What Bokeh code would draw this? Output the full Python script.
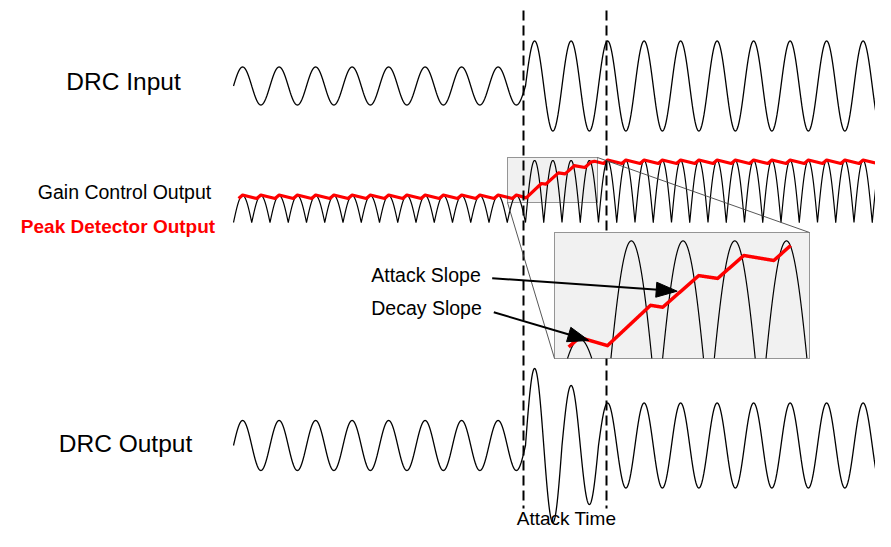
import numpy as np
from bokeh.plotting import figure
from bokeh.models import Range1d
from bokeh.core.properties import value
from bokeh.embed import file_html
from bokeh.resources import INLINE

# ---------------- data (diagram values, page-pixel units) ----------------
PERIOD = 36.5              # one signal cycle
X_START = 233.0            # where every trace begins
X_END = 895.0
PRE_HALF_CYCLES = 16       # half cycles before the level step

IN_CENTER = 85.5
IN_AMPS = [19.0, 45.0]                 # before / after the step
RECT_BASE = 222.0
RECT_AMPS = [27.0, 62.0]               # rectified (gain control) levels
OUT_CENTER = 445.0
OUT_AMP_BEFORE = 25.0
OUT_ATTACK_AMPS = [77.0, 77.0, 60.0, 59.0]   # half cycles during attack time
OUT_AMP_AFTER = 42.5

PEAK_SMALL = [194.5, 198.0]            # peak detector top / low, before step
PEAK_BIG = [159.5, 163.0]              # after step
ATTACK_X = [525.7, 540.9, 545.2, 557.9, 564.6, 573.8, 584.4, 590.4, 594.0, 603.1]
ATTACK_Y = [197.4, 183.0, 183.7, 172.4, 173.4, 165.2, 167.0, 161.6, 160.8, 163.0]

MARKER_X = [523.0, 606.0]              # attack time boundaries
MARKER_Y = [10.0, 508.0]

ZOOM_SRC = [507.0, 157.0, 597.0, 202.0]   # x0, y0, x1, y1
ZOOM_DST = [554.0, 232.0, 809.0, 358.0]
INSET_RED_SPAN = [512.0, 590.4]

ARROW_FROM_X = [491.7, 493.3]
ARROW_FROM_Y = [277.7, 311.7]
ARROW_TIP_X = [676.7, 588.3]
ARROW_TIP_Y = [290.7, 340.0]

BIG_LABELS = ["DRC Input", "DRC Output"]
BIG_X = [123.0, 125.0]
BIG_Y = [80.5, 442.7]
SMALL_LABELS = ["Gain Control Output", "Attack Slope", "Decay Slope"]
SMALL_X = [124.0, 425.5, 426.0]
SMALL_Y = [191.0, 274.3, 307.5]
TIME_LABEL = ["Attack Time"]
TIME_X = [566.0]
TIME_Y = [518.0]
RED_LABEL = ["Peak Detector Output"]
RED_X = [117.5]
RED_Y = [225.8]

# ---------------- derived traces ----------------
half = PERIOD / 2.0
x = np.arange(X_START, X_END, 0.02)
phase = 2 * np.pi * (x - X_START) / PERIOD
hidx = np.floor((x - X_START) / half).astype(int)
after = hidx >= PRE_HALF_CYCLES

in_amp = np.where(after, IN_AMPS[1], IN_AMPS[0])
y_in = IN_CENTER - in_amp * np.sin(phase)

rect_amp = np.where(after, RECT_AMPS[1], RECT_AMPS[0])
y_rect = RECT_BASE - rect_amp * np.abs(np.sin(phase))

out_amp = np.full_like(x, OUT_AMP_AFTER)
out_amp[hidx < PRE_HALF_CYCLES] = OUT_AMP_BEFORE
for i, a in enumerate(OUT_ATTACK_AMPS):
    out_amp[hidx == PRE_HALF_CYCLES + i] = a
y_out = OUT_CENTER - out_amp * np.sin(phase)

# peak detector path
rx, ry = [], []
small_peaks = X_START + PERIOD / 4 + np.arange(PRE_HALF_CYCLES) * half
for xp in small_peaks:
    rx += [xp - 4, xp]
    ry += [PEAK_SMALL[1], PEAK_SMALL[0]]
rx += ATTACK_X
ry += ATTACK_Y
xb = X_START + PRE_HALF_CYCLES * half + PERIOD / 4
while xb < X_END + half:
    if xb > ATTACK_X[-1]:
        rx += [xb, xb + half - 4]
        ry += [PEAK_BIG[0], PEAK_BIG[1]]
    xb += half
rx = np.array(rx)
ry = np.array(ry)

# inset (magnified view)
sx = (ZOOM_DST[2] - ZOOM_DST[0]) / (ZOOM_SRC[2] - ZOOM_SRC[0])
sy = (ZOOM_DST[3] - ZOOM_DST[1]) / (ZOOM_SRC[3] - ZOOM_SRC[1])


def to_inset(xx, yy):
    return ZOOM_DST[0] + (xx - ZOOM_SRC[0]) * sx, ZOOM_DST[1] + (yy - ZOOM_SRC[1]) * sy


m = (x >= ZOOM_SRC[0]) & (x <= ZOOM_SRC[2])
ax_, ay_ = x[m], y_rect[m].copy()
ay_[(ay_ > ZOOM_SRC[3]) | (ay_ < ZOOM_SRC[1])] = np.nan
ix_arc, iy_arc = to_inset(ax_, ay_)

xf = np.arange(INSET_RED_SPAN[0], INSET_RED_SPAN[1], 0.05)
yf = np.interp(xf, rx, ry)
ix_red, iy_red = to_inset(xf, yf)

# ---------------- figure ----------------
W, H = 875, 531
p = figure(width=W, height=H, x_range=Range1d(0, W), y_range=Range1d(H, 0),
           x_axis_type=None, y_axis_type=None, toolbar_location=None,
           output_backend="svg", min_border=0, outline_line_color=None,
           background_fill_color="white", border_fill_color="white")

BOXFILL = "#f1f1f1"
# small zoom box fill
p.quad(left=[ZOOM_SRC[0]], right=[ZOOM_SRC[2]], top=[ZOOM_SRC[1]], bottom=[ZOOM_SRC[3]],
       fill_color=BOXFILL, line_color=None)

p.line(x, y_in, line_color="black", line_width=1.3)
p.line(x, y_rect, line_color="black", line_width=1.2)
p.line(x, y_out, line_color="black", line_width=1.3)
p.line(rx, ry, line_color="#ff0000", line_width=3.2, line_join="round")

p.segment(x0=MARKER_X, y0=[MARKER_Y[0]] * 2, x1=MARKER_X, y1=[MARKER_Y[1]] * 2,
          line_color="black", line_width=2, line_dash="10 5")

# small box border
p.quad(left=[ZOOM_SRC[0]], right=[ZOOM_SRC[2]], top=[ZOOM_SRC[1]], bottom=[ZOOM_SRC[3]],
       fill_color=None, line_color="#333333", line_width=1, line_dash="1 1")

# connectors
p.segment(x0=[ZOOM_SRC[2], ZOOM_SRC[0]], y0=[ZOOM_SRC[1], ZOOM_SRC[3]],
          x1=[ZOOM_DST[2], ZOOM_DST[0]], y1=[ZOOM_DST[1], ZOOM_DST[3]],
          line_color="#444444", line_width=0.9)

# inset
p.quad(left=[ZOOM_DST[0]], right=[ZOOM_DST[2]], top=[ZOOM_DST[1]], bottom=[ZOOM_DST[3]],
       fill_color=BOXFILL, line_color=None)
p.line(ix_arc, iy_arc, line_color="black", line_width=1.2)
p.line(ix_red, iy_red, line_color="#ff0000", line_width=3.5, line_join="round")
p.quad(left=[ZOOM_DST[0]], right=[ZOOM_DST[2]], top=[ZOOM_DST[1]], bottom=[ZOOM_DST[3]],
       fill_color=None, line_color="#333333", line_width=1, line_dash="1 1")

# arrows
L_HEAD, W_HEAD = 21.0, 15.0
shaft_x0, shaft_y0, shaft_x1, shaft_y1, heads_x, heads_y = [], [], [], [], [], []
for x0, y0, xt, yt in zip(ARROW_FROM_X, ARROW_FROM_Y, ARROW_TIP_X, ARROW_TIP_Y):
    d = np.array([xt - x0, yt - y0])
    d = d / np.hypot(*d)
    n = np.array([-d[1], d[0]])
    base = np.array([xt, yt]) - L_HEAD * d
    shaft_x0.append(x0); shaft_y0.append(y0)
    shaft_x1.append(base[0] + 2 * d[0]); shaft_y1.append(base[1] + 2 * d[1])
    pts = [np.array([xt, yt]), base + n * W_HEAD / 2, base - n * W_HEAD / 2]
    heads_x.append([q[0] for q in pts]); heads_y.append([q[1] for q in pts])
p.segment(x0=shaft_x0, y0=shaft_y0, x1=shaft_x1, y1=shaft_y1, line_color="black", line_width=2)
p.patches(heads_x, heads_y, fill_color="black", line_color="black", line_width=1)

# labels
FONT = value("Liberation Sans")
p.text(x=BIG_X, y=BIG_Y, text=BIG_LABELS, text_font=FONT, text_font_size="24.5px",
       text_align="center", text_baseline="middle", text_color="black")
p.text(x=SMALL_X, y=SMALL_Y, text=SMALL_LABELS, text_font=FONT, text_font_size="19.5px",
       text_align="center", text_baseline="middle", text_color="black")
p.text(x=TIME_X, y=TIME_Y, text=TIME_LABEL, text_font=FONT, text_font_size="19px",
       text_align="center", text_baseline="middle", text_color="black")
p.text(x=RED_X, y=RED_Y, text=RED_LABEL, text_font=FONT, text_font_size="19px",
       text_font_style="bold", text_align="center", text_baseline="middle",
       text_color="#ff0000")

open("out.html", "w").write(file_html(p, INLINE))
